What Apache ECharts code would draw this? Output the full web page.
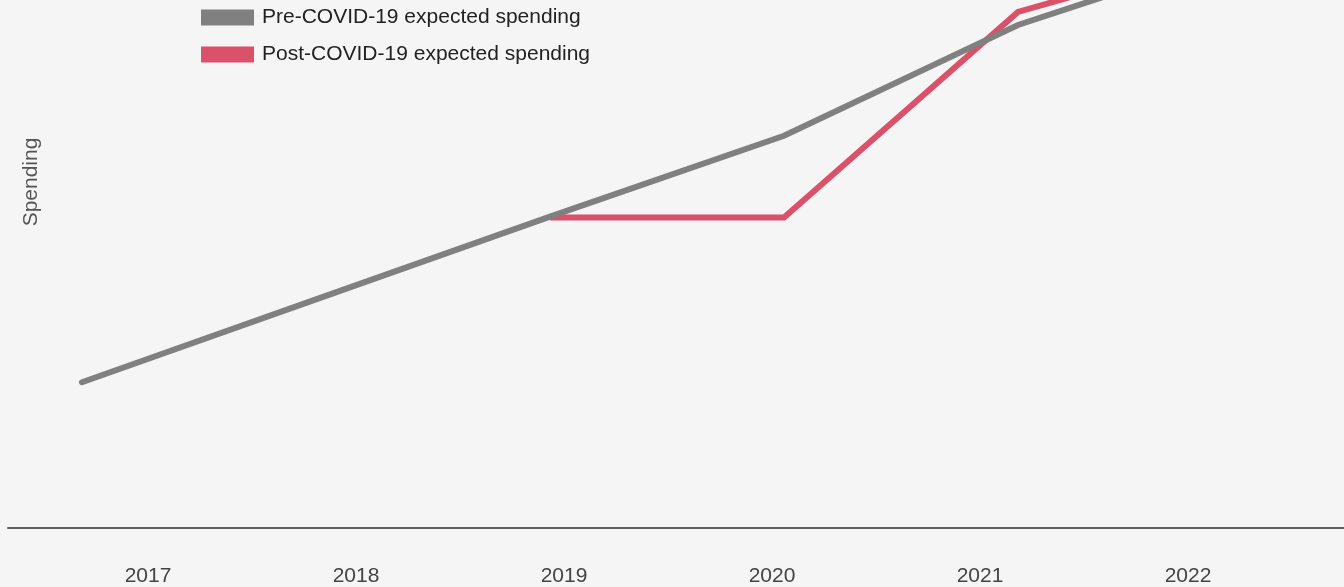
<!DOCTYPE html>
<html>
<head>
<meta charset="utf-8">
<title>Expected spending</title>
<script src="https://cdn.jsdelivr.net/npm/echarts@6/dist/echarts.min.js"></script>
<style>
  html, body { margin: 0; padding: 0; background: #f5f5f5; }
  #chart { width: 1344px; height: 587px; }
</style>
</head>
<body>
<div id="chart"></div>
<script>
// Years along the horizontal axis
const years = [2017, 2018, 2019, 2020, 2021, 2022];
// Spending index (arbitrary units, no scale shown)
const preCovid = [146, 229, 312, 393, 504, 581];
const postCovid = [null, null, 311, 311, 517, 584];

const seriesNames = ['Pre-COVID-19 expected spending', 'Post-COVID-19 expected spending'];
const FONT = '"Liberation Sans", Arial, Helvetica, sans-serif';

const chart = echarts.init(document.getElementById('chart'), null, { renderer: 'canvas' });

chart.setOption({
  animation: false,
  backgroundColor: '#f5f5f5',
  textStyle: { fontFamily: FONT },
  grid: { left: 8, right: 0, top: 0, bottom: 58 },
  legend: {
    data: seriesNames,
    orient: 'vertical',
    left: 201,
    top: 7,
    padding: 0,
    itemWidth: 53,
    itemHeight: 16,
    itemGap: 16,
    icon: 'rect',
    selectedMode: false,
    textStyle: { fontSize: 21, color: '#222', fontFamily: FONT, padding: [0, 0, 0, 3] }
  },
  xAxis: [
    {
      // axis carrying the lines
      type: 'value',
      min: 2016.684,
      max: 2022.393,
      show: false
    },
    {
      // axis carrying the baseline and the year labels
      type: 'value',
      min: 2016.327,
      max: 2022.750,
      position: 'bottom',
      axisLine: { show: true, lineStyle: { color: '#5f5f5f', width: 2 } },
      axisTick: { show: false },
      splitLine: { show: false },
      axisLabel: {
        customValues: years,
        formatter: v => String(v),
        fontSize: 21,
        color: '#444',
        margin: 38,
        fontFamily: FONT
      }
    }
  ],
  yAxis: {
    type: 'value',
    min: 0,
    max: 529,
    show: false
  },
  graphic: [{
    type: 'text',
    x: 31,
    y: 182,
    rotation: Math.PI / 2,
    style: {
      text: 'Spending',
      fill: '#555',
      font: '21px ' + FONT,
      align: 'center',
      verticalAlign: 'middle'
    }
  }],
  series: [
    {
      name: seriesNames[1],
      type: 'line',
      xAxisIndex: 0,
      data: years.map((y, i) => [y, postCovid[i]]),
      showSymbol: false,
      symbol: 'none',
      color: '#db516a',
      lineStyle: { color: '#db516a', width: 6, cap: 'butt', join: 'miter' },
      z: 2
    },
    {
      name: seriesNames[0],
      type: 'line',
      xAxisIndex: 0,
      data: years.map((y, i) => [y, preCovid[i]]),
      showSymbol: false,
      symbol: 'none',
      color: '#808080',
      lineStyle: { color: '#808080', width: 6, cap: 'round', join: 'miter' },
      z: 3
    }
  ]
});
</script>
</body>
</html>
